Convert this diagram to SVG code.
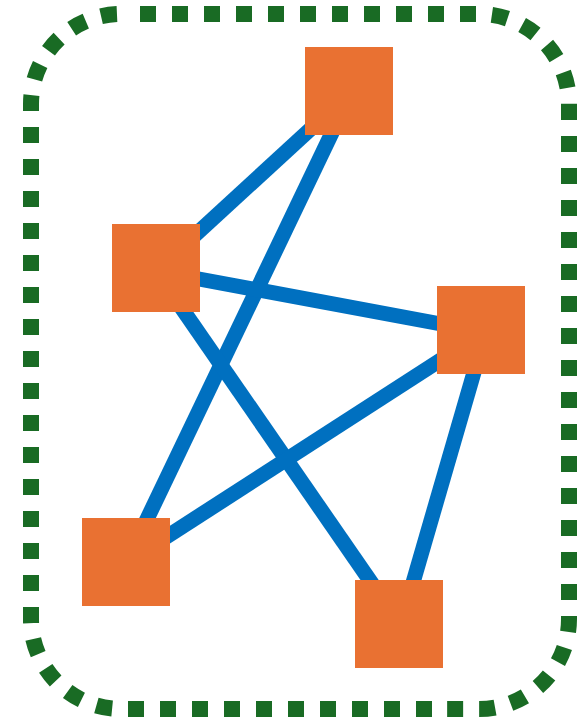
<svg xmlns="http://www.w3.org/2000/svg" width="581" height="719" viewBox="0 0 581 719">
<style>
.border{fill:none;stroke:#196B24;stroke-width:16;stroke-dasharray:16 16}
.edge{stroke:#0070C0;stroke-width:15;fill:none}
.node{fill:#E97132}
</style>
<rect width="581" height="719" fill="#ffffff"/>
<g id="frame">
<path class="border" d="M140,14 H479 A90,90 0 0 1 569,104"/>
<path class="border" d="M569,104 V619 A90,90 0 0 1 479,709 H432"/>
<path class="border" d="M432,709 H121 A90,90 0 0 1 31,619"/>
<path class="border" d="M31,623 V104 A90,90 0 0 1 121,14"/>
</g>
<g id="connectors">
<line class="edge" x1="352" y1="91" x2="156" y2="271"/>
<line class="edge" x1="352" y1="91" x2="126" y2="563"/>
<line class="edge" x1="156" y1="271" x2="484" y2="332"/>
<line class="edge" x1="156" y1="271" x2="400" y2="624"/>
<line class="edge" x1="484" y1="332" x2="126" y2="563"/>
<line class="edge" x1="486" y1="331" x2="401" y2="624"/>
</g>
<g id="node1"><rect class="node" x="305" y="47" width="88" height="88"/></g>
<g id="node2"><rect class="node" x="112" y="224" width="88" height="88"/></g>
<g id="node3"><rect class="node" x="437" y="286" width="88" height="88"/></g>
<g id="node4"><rect class="node" x="82" y="518" width="88" height="88"/></g>
<g id="node5"><rect class="node" x="355" y="580" width="88" height="88"/></g>
</svg>
